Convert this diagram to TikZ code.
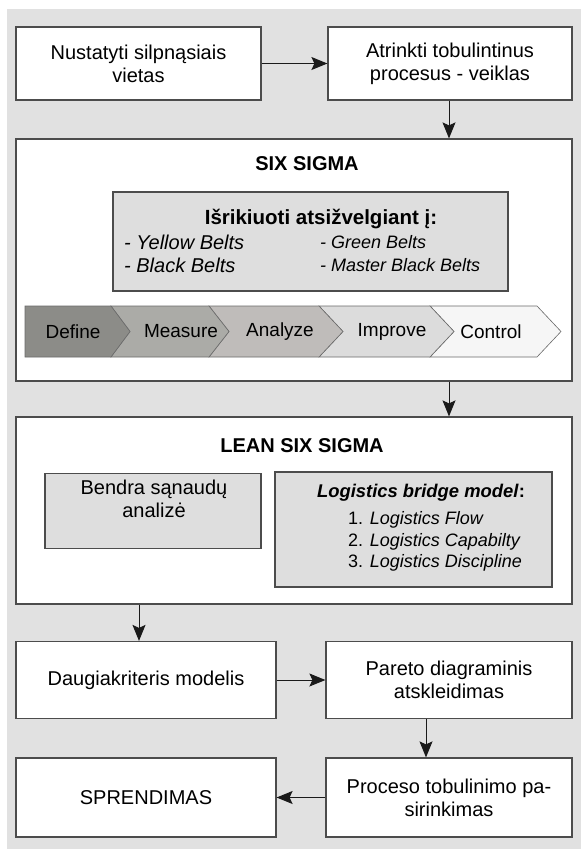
\documentclass[tikz,border=0pt]{standalone}
\usepackage{fontspec}
\setmainfont{Liberation Sans}
\usetikzlibrary{arrows.meta}
\definecolor{bggray}{HTML}{E1E1E1}
\definecolor{panelgray}{HTML}{DEDEDE}
\definecolor{boxline}{HTML}{4C4C4C}
\definecolor{arrowcol}{HTML}{1A1A1A}
\definecolor{chevA}{HTML}{8C8C88}
\definecolor{chevB}{HTML}{ABABA7}
\definecolor{chevC}{HTML}{BFBCBA}
\definecolor{chevD}{HTML}{DCDCDC}
\definecolor{chevE}{HTML}{F6F6F6}
\definecolor{chevline}{HTML}{6A6A6A}
\begin{document}
\begin{tikzpicture}[x=1pt,y=-1pt,
  box/.style={draw=boxline, line width=1.2pt, fill=white, inner sep=0pt,
    align=center, font=\fontsize{20}{23}\selectfont},
  frame/.style={draw=boxline, line width=1.2pt, fill=white, inner sep=0pt},
  panel/.style={draw=boxline, line width=1.2pt, fill=panelgray, inner sep=0pt},
  title/.style={font=\fontsize{20}{23}\selectfont\bfseries, inner sep=0pt},
  txt/.style={font=\fontsize{20}{23}\selectfont, align=center, inner sep=0pt},
  steplabel/.style={font=\fontsize{19}{23}\selectfont, inner sep=0pt},
  bigitem/.style={font=\fontsize{20}{23}\selectfont\itshape, anchor=west, inner sep=0pt},
  smallitem/.style={font=\fontsize{18}{23}\selectfont\itshape, anchor=west, inner sep=0pt},
  listitem/.style={font=\fontsize{18}{22}\selectfont, anchor=west, inner sep=0pt},
  chev/.style={draw=chevline, line width=0.6pt},
  flow/.style={draw=arrowcol, line width=1pt, -{Stealth[length=16pt,width=13pt,inset=3pt]}}]

% page and background
\useasboundingbox (0,0) rectangle (581,849);
\fill[bggray] (7,9) rectangle (581,849);

% top row
\node[box, minimum width=245pt, minimum height=73pt] (weak) at (138.5,63.5)
  {Nustatyti silpnąsiais\\vietas};
\node[box, minimum width=244pt, minimum height=73pt] (select) at (450,63.5)
  {Atrinkti tobulintinus\\procesus - veiklas};

% SIX SIGMA frame
\node[frame, minimum width=556pt, minimum height=242pt] (six) at (294,260) {};
\node[title] (sixtitle) at (307,164) {SIX SIGMA};
\node[panel, minimum width=395pt, minimum height=99pt] (belts) at (310.5,241.5) {};
\node[font=\fontsize{20.5}{23}\selectfont\bfseries, inner sep=0pt] (beltshead) at (321,219) {Išrikiuoti atsižvelgiant į:};
\node[bigitem] (yellow) at (124,242) {- Yellow Belts};
\node[bigitem] (black) at (124,265) {- Black Belts};
\node[smallitem] (green) at (320,242) {- Green Belts};
\node[smallitem] (master) at (320,265) {- Master Black Belts};

% DMAIC chevrons
\def\ct{306}\def\cb{357}\def\cm{331.5}
\filldraw[chev, fill=chevE] (430,\ct) -- (537,\ct) -- (561,\cm) -- (537,\cb) -- (430,\cb) -- (454,\cm) -- cycle;
\filldraw[chev, fill=chevD] (319,\ct) -- (430,\ct) -- (454,\cm) -- (430,\cb) -- (319,\cb) -- (343,\cm) -- cycle;
\filldraw[chev, fill=chevC] (209,\ct) -- (319,\ct) -- (343,\cm) -- (319,\cb) -- (209,\cb) -- (229,\cm) -- cycle;
\filldraw[chev, fill=chevB] (111,\ct) -- (209,\ct) -- (229,\cm) -- (209,\cb) -- (111,\cb) -- (130,\cm) -- cycle;
\filldraw[chev, fill=chevA] (25,\ct) -- (111,\ct) -- (130,\cm) -- (111,\cb) -- (25,\cb) -- cycle;
\node[steplabel] (define) at (73,\cm) {Define};
\node[steplabel] (measure) at (181,\cm) {Measure};
\node[steplabel] (analyze) at (280,\cm) {Analyze};
\node[steplabel] (improve) at (392,\cm) {Improve};
\node[steplabel] (control) at (491,\cm) {Control};

% LEAN SIX SIGMA frame
\node[frame, minimum width=556pt, minimum height=187pt] (lean) at (294,510.5) {};
\node[title] (leantitle) at (302,446) {LEAN SIX SIGMA};
\node[panel, minimum width=216pt, minimum height=75pt] (cost) at (153,511) {};
\node[txt, anchor=north] (costtext) at (154,480) {Bendra sąnaudų\\analizė};
\node[panel, minimum width=277pt, minimum height=115pt] (bridge) at (413.5,529.5) {};
\node[font=\fontsize{18.4}{22}\selectfont\bfseries, inner sep=0pt] (bridgehead) at (421,493)
  {\textit{Logistics bridge model}:};
\node[listitem] (flowitem) at (348,520) {1. \textit{Logistics Flow}};
\node[listitem] (capitem) at (348,541.5) {2. \textit{Logistics Capabilty}};
\node[listitem] (discitem) at (348,563) {3. \textit{Logistics Discipline}};

% lower rows
\node[box, minimum width=260pt, minimum height=77pt] (multi) at (146,680) {Daugiakriteris modelis};
\node[box, minimum width=246pt, minimum height=77pt] (pareto) at (449,680) {Pareto diagraminis\\atskleidimas};
\node[box, minimum width=260pt, minimum height=79pt] (decision) at (146,797.5) {SPRENDIMAS};
\node[box, minimum width=246pt, minimum height=79pt] (choice) at (449,797.5) {Proceso tobulinimo pa-\\sirinkimas};

% connectors
\draw[flow] (weak.east) -- (select.west);
\draw[flow] (select.south -| 449,0) -- (six.north -| 449,0);
\draw[flow] (six.south -| 449,0) -- (lean.north -| 449,0);
\draw[flow] (lean.south -| 139,0) -- (multi.north -| 139,0);
\draw[flow] (multi.east) -- (pareto.west);
\draw[flow] (pareto.south -| 426,0) -- (choice.north -| 426,0);
\draw[flow] (choice.west) -- (decision.east);
\end{tikzpicture}
\end{document}
